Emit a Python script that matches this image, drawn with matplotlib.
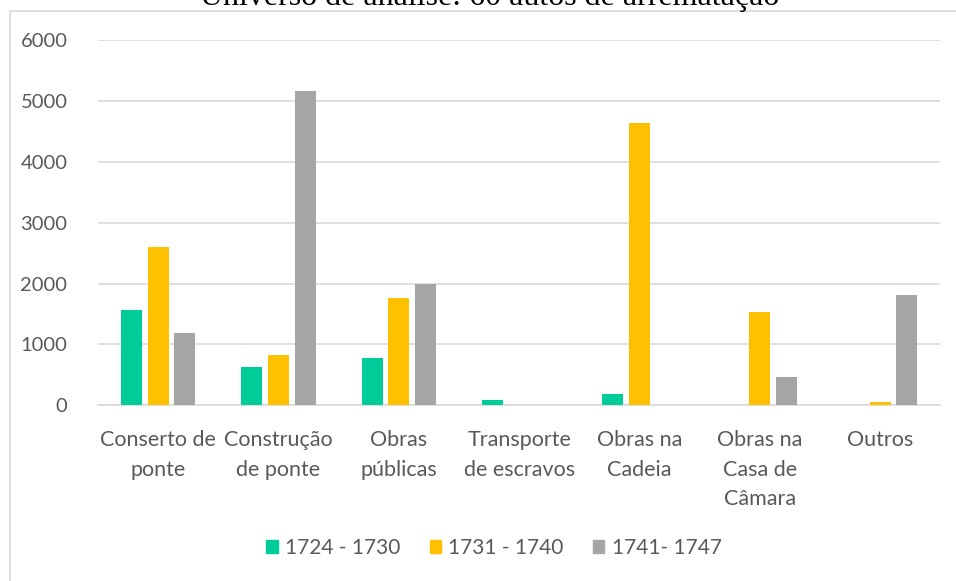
import numpy as np
import matplotlib.pyplot as plt
from matplotlib.patches import Patch, Rectangle

categorias = ['Conserto de\nponte', 'Construção\nde ponte', 'Obras\npúblicas',
              'Transporte\nde escravos', 'Obras na\nCadeia', 'Obras na\nCasa de\nCâmara', 'Outros']
periodos = ['1724 - 1730', '1731 - 1740', '1741- 1747']
v_1724 = [1570, 630, 770, 90, 190, 0, 0]
v_1731 = [2600, 830, 1760, 0, 4640, 1540, 50]
v_1741 = [1190, 5170, 1990, 0, 10, 470, 1820]
cores = ['#00CC99', '#FFC000', '#A5A5A5']

plt.rcParams['font.family'] = ['Lato', 'DejaVu Sans']

fig = plt.figure(figsize=(9.56, 5.81), dpi=100)
ax = fig.add_axes([0.1025, 0.3025, 0.881, 0.6278])

# moldura do gráfico
fig.patches.append(Rectangle((9.5 / 956, -0.1), 1.2, 1 - 11 / 581 + 0.1, transform=fig.transFigure,
                             fill=False, edgecolor='#D9D9D9', linewidth=1.2))

x = np.arange(len(categorias))
w = 0.175
passo = 0.222
for i, (vals, cor, nome) in enumerate(zip([v_1724, v_1731, v_1741], cores, periodos)):
    ax.bar(x + (i - 1) * passo, vals, width=w, color=cor, label=nome, zorder=3)

ax.set_xlim(-0.5, len(categorias) - 0.5)
ax.set_ylim(0, 6000)
ax.set_yticks(range(0, 6001, 1000))
ax.yaxis.grid(True, color='#D9D9D9', linewidth=1.2, zorder=0)
ax.set_axisbelow(True)
for s in ['top', 'right', 'left']:
    ax.spines[s].set_visible(False)
ax.spines['bottom'].set_color('#D9D9D9')
ax.spines['bottom'].set_linewidth(1.2)
ax.tick_params(axis='y', length=0, labelsize=14.5, colors='#595959', pad=22)
ax.tick_params(axis='x', length=0, labelsize=15.5, colors='#595959', pad=18)
ax.set_xticks(x)
ax.set_xticklabels(categorias, linespacing=1.6)

fig.text(489.5 / 956, 1 - 5 / 581, 'Universo de análise: 60 autos de arrematação',
         family='Liberation Serif', fontsize=23, ha='center', va='baseline', color='black')

handles = [Patch(color=c) for c in cores]
fig.legend(handles, periodos, loc='center', bbox_to_anchor=(494 / 956, 1 - 548 / 581), ncol=3,
           frameon=False, fontsize=15, handlelength=0.55, handleheight=0.6, handletextpad=0.35,
           columnspacing=1.4, labelcolor='#595959')

fig.savefig('out.png', dpi=100)
